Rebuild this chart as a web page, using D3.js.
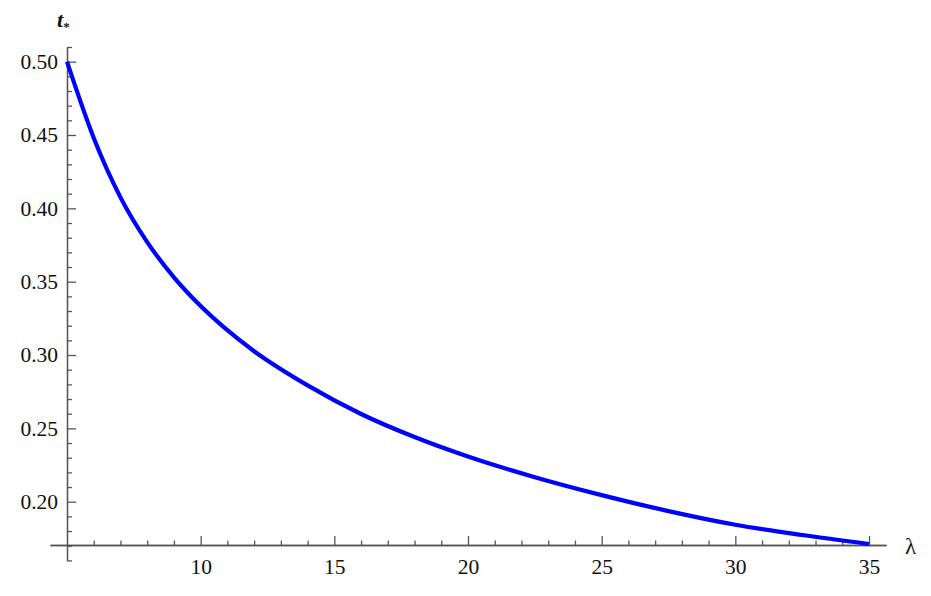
<!DOCTYPE html>
<html>
<head>
<meta charset="utf-8">
<script src="https://cdn.jsdelivr.net/npm/d3@7"></script>
<style>
  body { margin: 0; background: #fff; }
  svg text { font-family: "Times New Roman", "Liberation Serif", "DejaVu Serif", "Noto Serif", serif; fill: #111; }
  .axis path, .axis line { stroke: #555; stroke-width: 1.3; }
</style>
</head>
<body>
<div class="plot"></div>
<script>

// curve: lambda -> t*
var lambda = [5, 6, 7, 8, 9, 10, 12, 14, 16, 18, 20, 22.5, 25, 27.5, 30, 32.5, 35];
var tStar  = [0.500, 0.448, 0.4075, 0.377, 0.353, 0.3334, 0.3026, 0.2793, 0.2598, 0.2441,
              0.2308, 0.2167, 0.2045, 0.1936, 0.1843, 0.1773, 0.1712];

var xMajorTicks = [10, 15, 20, 25, 30, 35];
var xMinorTicks = [6, 7, 8, 9, 11, 12, 13, 14, 16, 17, 18, 19, 21, 22, 23, 24, 26, 27, 28, 29, 31, 32, 33, 34];
var yMajorTicks = [0.20, 0.25, 0.30, 0.35, 0.40, 0.45, 0.50];
var yMinorTicks = [0.16, 0.17, 0.18, 0.19, 0.21, 0.22, 0.23, 0.24, 0.26, 0.27, 0.28, 0.29,
                   0.31, 0.32, 0.33, 0.34, 0.36, 0.37, 0.38, 0.39, 0.41, 0.42, 0.43, 0.44,
                   0.46, 0.47, 0.48, 0.49, 0.51];

var W = 931, H = 596;
var serif = '"Times New Roman", "Liberation Serif", "DejaVu Serif", serif';

var x = d3.scaleLinear().domain([4.364, 35.636]).range([50, 886]);
var y = d3.scaleLinear().domain([0.16, 0.51]).range([560.4, 47]);
var xAxisAt = 0.1705;   // where the horizontal axis crosses
var yAxisAt = 5;

var svg = d3.select(".plot").append("svg")
    .attr("width", W)
    .attr("height", H);

// minor ticks
svg.append("g").attr("class", "axis")
    .attr("transform", "translate(0," + y(xAxisAt) + ")")
    .call(d3.axisBottom(x).tickValues(xMinorTicks).tickSize(-4.5).tickSizeOuter(0).tickFormat(""));
svg.append("g").attr("class", "axis")
    .attr("transform", "translate(" + x(yAxisAt) + ",0)")
    .call(d3.axisLeft(y).tickValues(yMinorTicks).tickSize(-5).tickSizeOuter(0).tickFormat(""));

// major ticks + labels
var xAxis = svg.append("g").attr("class", "axis")
    .attr("transform", "translate(0," + y(xAxisAt) + ")")
    .call(d3.axisBottom(x).tickValues(xMajorTicks).tickSize(-9).tickSizeOuter(0).tickPadding(14)
      .tickFormat(d3.format("d")));
var yAxis = svg.append("g").attr("class", "axis")
    .attr("transform", "translate(" + x(yAxisAt) + ",0)")
    .call(d3.axisLeft(y).tickValues(yMajorTicks).tickSize(-9).tickSizeOuter(0).tickPadding(9)
      .tickFormat(d3.format(".2f")));

svg.selectAll(".axis").attr("font-family", serif);
svg.selectAll(".axis text").attr("font-size", 21.5).attr("fill", "#111");

// the curve
var line = d3.line()
    .x(function (d, i) { return x(lambda[i]); })
    .y(function (d) { return y(d); })
    .curve(d3.curveMonotoneX);

svg.append("path")
    .datum(tStar)
    .attr("d", line)
    .attr("fill", "none")
    .attr("stroke", "#0000ff")
    .attr("stroke-width", 4.2)
    .attr("stroke-linecap", "butt");

// axis labels
var tl = svg.append("text")
    .attr("x", 57)
    .attr("y", 27)
    .attr("font-family", serif)
    .attr("font-size", 22)
    .style("font-style", "italic")
    .style("font-weight", "bold");
tl.append("tspan").text("t");
tl.append("tspan").attr("dy", 4).attr("font-size", 13).style("font-style", "normal").text("*");

svg.append("text")
    .attr("x", 905)
    .attr("y", 554)
    .attr("font-family", serif)
    .attr("font-size", 23)
    .text("λ");

</script>
</body>
</html>
